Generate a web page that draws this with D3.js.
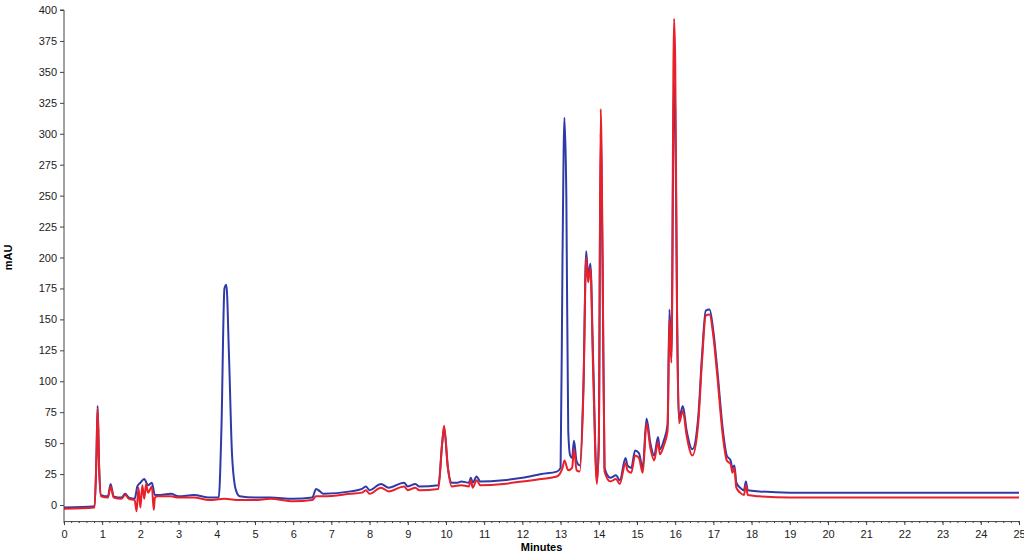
<!DOCTYPE html>
<html><head><meta charset="utf-8">
<script src="https://cdn.jsdelivr.net/npm/d3@7"></script>
<style>body{margin:0;background:#fff}svg{display:block}</style></head>
<body><svg id="c" width="1024" height="555"></svg>
<script>
const xTicks = d3.range(0, 26);
const yTicks = d3.range(0, 401, 25);
const blueSeries = [[0,-2],[0.8,-1],[0.85,40],[0.88,80],[0.92,30],[0.97,8],[1.15,7],[1.22,17],[1.3,7],[1.5,6],[1.6,9],[1.7,6],[1.85,5],[1.92,15],[2.0,18],[2.1,21],[2.2,16],[2.3,18],[2.38,8],[2.45,8],[2.8,9],[3.0,7],[3.4,8],[3.8,6],[4.05,6],[4.12,60],[4.2,175],[4.25,178],[4.32,120],[4.4,40],[4.5,12],[4.6,7],[5.0,6],[5.4,6],[6.0,5],[6.5,6],[6.6,13],[6.7,11],[6.8,9],[7.5,11],[7.8,13],[7.9,15],[8.0,12],[8.3,17],[8.5,14],[8.9,18],[9.0,15],[9.2,17],[9.3,15],[9.8,16],[9.9,50],[9.95,62],[10.05,30],[10.15,18],[10.3,18],[10.4,19],[10.6,18],[10.65,22],[10.7,18],[10.8,23],[10.9,19],[11.5,20],[12.0,22],[12.5,25],[12.9,27],[13.0,30],[13.05,200],[13.1,313],[13.15,250],[13.2,60],[13.25,40],[13.3,38],[13.35,52],[13.42,35],[13.5,32],[13.6,100],[13.67,205],[13.72,185],[13.78,195],[13.85,120],[13.95,20],[14.0,50],[14.05,300],[14.1,190],[14.15,30],[14.3,22],[14.45,24],[14.55,20],[14.7,38],[14.75,32],[14.85,30],[14.95,44],[15.05,42],[15.15,30],[15.25,70],[15.35,50],[15.45,40],[15.55,55],[15.6,45],[15.7,52],[15.8,65],[15.85,158],[15.9,120],[15.97,340],[16.0,320],[16.05,150],[16.1,70],[16.2,80],[16.3,60],[16.45,45],[16.6,70],[16.7,120],[16.8,157],[16.9,158],[17.0,140],[17.1,110],[17.25,60],[17.35,40],[17.45,36],[17.5,30],[17.55,32],[17.6,18],[17.7,14],[17.8,12],[17.85,19],[17.9,12],[18.2,11],[19,10],[25,10]];
const redSeries = [[0,-3],[0.8,-2],[0.85,40],[0.88,78],[0.92,30],[0.97,7],[1.15,6],[1.22,15],[1.3,6],[1.5,5],[1.6,8],[1.7,5],[1.85,4],[1.9,-5],[1.95,14],[2.0,-2],[2.05,16],[2.1,5],[2.15,17],[2.2,10],[2.3,15],[2.35,-4],[2.38,6],[2.45,7],[2.8,7],[3.0,6],[3.4,6],[3.8,4],[4.2,5],[4.6,4],[5.0,4],[5.4,5],[6.0,3],[6.5,4],[6.6,7],[6.8,7],[7.5,9],[7.8,10],[7.9,12],[8.0,9],[8.3,14],[8.5,11],[8.9,15],[9.0,12],[9.2,14],[9.3,12],[9.8,13],[9.9,50],[9.95,64],[10.05,30],[10.15,15],[10.4,16],[10.6,15],[10.65,20],[10.7,14],[10.8,20],[10.9,16],[11.5,17],[12.0,19],[12.5,21],[12.9,23],[13.05,30],[13.1,36],[13.2,28],[13.3,30],[13.35,45],[13.42,28],[13.5,27],[13.6,95],[13.67,200],[13.72,180],[13.78,192],[13.85,110],[13.95,17],[14.0,50],[14.05,320],[14.1,200],[14.15,27],[14.3,19],[14.45,21],[14.55,17],[14.7,34],[14.75,28],[14.85,26],[14.95,40],[15.05,38],[15.15,26],[15.25,66],[15.35,46],[15.45,36],[15.55,51],[15.6,41],[15.7,48],[15.8,60],[15.85,150],[15.9,115],[15.97,393],[16.0,360],[16.05,150],[16.1,66],[16.2,76],[16.3,56],[16.45,40],[16.6,65],[16.7,115],[16.8,153],[16.9,154],[17.0,136],[17.1,105],[17.25,55],[17.35,36],[17.45,33],[17.5,26],[17.55,30],[17.6,14],[17.7,10],[17.8,8],[17.85,16],[17.9,8],[18.2,7],[19,6],[25,6]];

const svg = d3.select("#c");
const x = d3.scaleLinear().domain([0,25]).range([64,1019]);
const y = d3.scaleLinear().domain([0,400]).range([505,10]);
const yBottom = y(-13);
const font = "Liberation Sans, Arial, sans-serif";

const line = d3.line().x(d=>x(d[0])).y(d=>y(d[1])).curve(d3.curveMonotoneX);
svg.append("path").datum(blueSeries).attr("d",line).attr("fill","none").attr("stroke","#2e3aa8").attr("stroke-width",2);
svg.append("path").datum(redSeries).attr("d",line).attr("fill","none").attr("stroke","#e8202a").attr("stroke-width",2);

// x axis
const xa = svg.append("g").attr("transform",`translate(0,${yBottom})`)
  .call(d3.axisBottom(x).tickValues(xTicks).tickSize(4).tickFormat(d3.format("d")));
const minor = d3.range(0,25.01,0.2);
svg.append("g").selectAll("line").data(minor).join("line")
  .attr("x1",d=>x(d)).attr("x2",d=>x(d)).attr("y1",yBottom).attr("y2",yBottom+2).attr("stroke","#444");
// y axis
const ya = svg.append("g").attr("transform",`translate(${x(0)},0)`)
  .call(d3.axisLeft(y).tickValues(yTicks).tickSize(4).tickFormat(d3.format("d")));
ya.select(".domain").attr("d",`M-4,${y(400)}H0V${yBottom}`);
[xa,ya].forEach(a=>{a.selectAll("text").attr("font-family",font).attr("font-size",11).attr("fill","#222");a.selectAll("line,path").attr("stroke","#444");});
xa.selectAll("text").attr("dy","0.9em");
svg.append("text").attr("x",x(12.5)).attr("y",551).attr("text-anchor","middle")
  .attr("font-family",font).attr("font-size",11).attr("font-weight","bold").text("Minutes");
svg.append("text").attr("transform",`translate(12,${y(200)}) rotate(-90)`).attr("text-anchor","middle")
  .attr("font-family",font).attr("font-size",11).attr("font-weight","bold").text("mAU");
</script></body></html>
